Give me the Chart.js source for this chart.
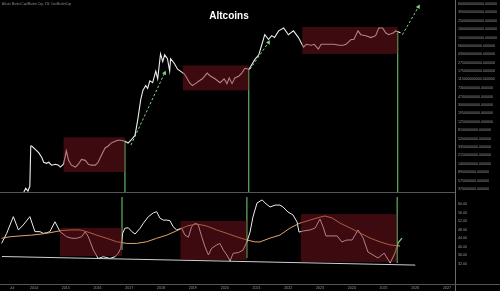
<!DOCTYPE html>
<html>
<head>
<meta charset="utf-8">
<script src="https://cdn.jsdelivr.net/npm/chart.js@4.4.1/dist/chart.umd.min.js"></script>
<style>
  html, body { margin: 0; padding: 0; background: #000; }
  #wrap { position: relative; width: 500px; height: 291px; overflow: hidden; background: #000;
          font-family: "Liberation Sans", Arial, sans-serif; }
  #topPane { position: absolute; left: 0; top: 0; width: 500px; height: 197px; }
  #lowPane { position: absolute; left: 0; top: 197px; width: 500px; height: 94px; }
  #title { position: absolute; left: 0; width: 458px; top: 11px; line-height: 10px; text-align: center;
           color: #fff; font-weight: bold; font-size: 10px; }
  #source { position: absolute; left: 2px; top: 2px; color: #8c8c8c; font-size: 8px; white-space: nowrap;
            transform: scale(0.37); transform-origin: left top; }
</style>
</head>
<body>
<div id="wrap">
  <div id="topPane"><canvas id="topChart"></canvas></div>
  <div id="lowPane"><canvas id="lowChart"></canvas></div>
  <div id="title">Altcoins</div>
  <div id="source">Altcoin Market Cap/Market Cap, 1W, CoinMarketCap</div>
</div>
<script>
// x axis (decimal years)
const xMin = 2012.93, xMax = 2027.25;
const xTickValues = [2013.31, 2014, 2015, 2016, 2017, 2018, 2019, 2020, 2021, 2022, 2023, 2024, 2025, 2026, 2027];
const xTickLabels = ['Jul', '2014', '2015', '2016', '2017', '2018', '2019', '2020', '2021', '2022', '2023', '2024', '2025', '2026', '2027'];

// top pane: altcoin market cap, in billions USD (log scale)
const capTicks = [6000, 3900, 2500, 1600, 1000, 660, 430, 275, 175, 115, 73, 47, 30, 19.5, 12.5, 8.1, 5.2, 3.35, 2.15, 1.4, 0.89, 0.575, 0.37];
const capDates = [2013.56,2013.62,2013.69,2013.75,2013.78,2013.81,2013.94,2014.03,2014.13,2014.19,2014.28,2014.35,2014.44,2014.57,2014.66,2014.72,2014.82,2014.91,2014.98,2015.07,2015.20,2015.29,2015.39,2015.51,2015.61,2015.70,2015.83,2015.92,2016.02,2016.14,2016.24,2016.33,2016.46,2016.55,2016.64,2016.77,2016.87,2016.96,2017.09,2017.18,2017.27,2017.34,2017.43,2017.49,2017.56,2017.65,2017.75,2017.81,2017.90,2017.97,2018.03,2018.12,2018.19,2018.22,2018.34,2018.44,2018.53,2018.66,2018.75,2018.82,2018.91,2019.01,2019.13,2019.23,2019.38,2019.48,2019.63,2019.79,2019.92,2020.01,2020.08,2020.17,2020.26,2020.39,2020.48,2020.58,2020.71,2020.80,2020.89,2021.02,2021.11,2021.21,2021.33,2021.43,2021.52,2021.65,2021.81,2021.96,2022.12,2022.28,2022.44,2022.53,2022.69,2022.78,2022.91,2023.00,2023.22,2023.41,2023.57,2023.70,2023.79,2023.95,2024.04,2024.17,2024.26,2024.42,2024.58,2024.73,2024.83,2024.95,2025.05,2025.14,2025.30,2025.36,2025.52];
const capValues = [0.315,0.386,0.332,0.426,3.52,3.52,2.88,2.48,1.93,1.50,1.42,1.50,1.29,1.355,1.29,1.165,1.355,2.74,1.66,1.29,1.165,1.355,1.74,1.66,1.355,1.29,1.29,1.50,2.13,3.18,3.52,4.10,4.53,4.76,4.76,4.53,4.10,4.76,6.12,14.4,39.3,65.0,83.6,71.9,107.5,97.2,178,119,439,294,418,342,178,342,266,197,178,153,119,97.2,83.6,92.5,107.5,119,161,138,119,97.2,119,92.5,125,92.5,125,138,161,207,197,253,325,418,691,1201,934,1142,1033,1468,1707,1201,1468,1033,625,726,691,726,565,726,726,726,691,691,726,934,934,1468,1201,1142,1033,1142,1707,1707,1328,1201,1328,1468,1328];

// shaded ranges (start, end) and their levels in each pane
const boxStart = [2014.82, 2018.61, 2022.40];
const boxEnd = [2016.77, 2020.70, 2025.43];
const topBoxHigh = [5.54, 240, 1794];
const topBoxLow = [0.906, 65, 439];
const lowBoxHigh = [48.8, 52.1, 55.3];
const lowBoxLow = [35.7, 33.9, 32.9];

// green markers
const greenX = [2016.77, 2020.70, 2025.43];
const greenTopCap = [4.53, 197, 1328];
const greenLowEnd = [38.5, 34.8, 32.5];
const arrowStartX = [2016.96, 2020.74, 2025.58];
const arrowStartY = [3.70, 197, 1201];
const arrowEndX = [2018.03, 2021.33, 2026.09];
const arrowEndY = [161, 803, 5160];
const arrowTilt = [24, 32, 29];

// lower pane: oscillator and its average
const oscTicks = [60, 56, 52, 48, 44, 40, 36, 32];
const oscDates = [2012.98,2013.14,2013.35,2013.51,2013.66,2013.87,2014.03,2014.19,2014.29,2014.40,2014.50,2014.66,2014.82,2015.03,2015.19,2015.34,2015.50,2015.61,2015.71,2015.87,2016.02,2016.18,2016.39,2016.55,2016.65,2016.73,2016.79,2016.86,2016.97,2017.08,2017.18,2017.34,2017.44,2017.60,2017.76,2017.86,2017.97,2018.07,2018.18,2018.28,2018.38,2018.49,2018.65,2018.75,2018.86,2018.96,2019.07,2019.17,2019.28,2019.38,2019.49,2019.59,2019.75,2019.85,2019.96,2020.07,2020.17,2020.27,2020.43,2020.58,2020.70,2020.80,2020.89,2021.02,2021.18,2021.27,2021.43,2021.59,2021.74,2021.84,2021.99,2022.15,2022.28,2022.34,2022.47,2022.69,2022.85,2023.00,2023.10,2023.19,2023.38,2023.54,2023.69,2023.85,2024.01,2024.20,2024.36,2024.51,2024.67,2024.83,2025.02,2025.21,2025.36];
const oscValues = [41.6,46.3,54.1,47.9,50.2,54.1,47.1,47.1,46.3,46.6,47.1,51.7,47.1,44.7,44.0,44.0,44.7,47.1,44.7,38.5,34.6,35.4,34.6,35.4,37.0,39.3,46.3,48.7,48.9,47.1,46.0,48.7,51.0,54.1,55.9,56.4,53.3,52.5,52.5,52.2,49.4,47.9,48.7,45.5,44.5,49.4,51.0,50.2,44.7,40.1,36.2,39.3,40.9,41.6,38.5,36.2,33.5,37.0,37.3,38.5,42.3,46.9,53.9,60.5,61.9,60.5,58.6,59.5,59.5,58.6,56.3,54.9,51.6,46.9,47.4,47.9,48.8,53.0,49.3,45.1,45.1,45.1,42.3,43.2,43.2,47.9,44.1,37.6,36.2,34.8,37.1,32.5,37.1];
const oscTailDates = [2025.36, 2025.46, 2025.58];
const oscTailValues = [37.1, 41.8, 44.1];
const maDates = [2012.98,2013.24,2013.56,2013.93,2014.19,2014.50,2014.82,2015.13,2015.45,2015.66,2015.97,2016.29,2016.60,2016.92,2017.23,2017.55,2017.86,2018.18,2018.49,2018.81,2019.12,2019.44,2019.75,2020.07,2020.38,2020.70,2020.96,2021.11,2021.43,2021.74,2022.06,2022.37,2022.69,2023.00,2023.16,2023.38,2023.63,2023.95,2024.26,2024.58,2024.89,2025.21,2025.52];
const maValues = [44.0,44.7,45.1,45.5,45.9,46.6,47.5,47.9,47.9,47.1,45.5,44.0,42.4,41.6,41.6,42.4,44.0,45.5,47.5,49.7,50.7,49.7,47.9,46.3,44.7,43.2,42.3,42.3,44.1,45.5,48.8,51.1,52.5,53.9,54.4,53.5,51.1,48.8,46.5,44.1,42.3,40.9,40.4];
const trendDates = [2012.99, 2026.0];
const trendValues = [35.5, 31.5];

const GREEN = '#5fb35f';
const ARROW = '#79d679';
const WHITE = '#ededed';
const ORANGE = '#e2a36c';
const AXIS_TEXT = '#9a9a9a';

Chart.defaults.font.family = '"Liberation Sans", Arial, sans-serif';

function pts(xs, ys) {
  return xs.map((v, i) => ({ x: v, y: ys[i] }));
}

function lineSet(data, color, extra) {
  return Object.assign({
    data: data, borderColor: color, borderWidth: 1, pointRadius: 0,
    tension: 0, fill: false
  }, extra || {});
}

// shaded boxes + pane separator lines
const framePlugin = {
  id: 'frame',
  afterDatasetsDraw(chart, args, opts) {
    const { ctx, scales } = chart;
    const x = scales.x, y = scales.y;
    ctx.save();
    ctx.fillStyle = 'rgba(122,22,30,0.5)';
    opts.boxes.forEach(b => {
      const x0 = x.getPixelForValue(b[0]), x1 = x.getPixelForValue(b[1]);
      const y0 = y.getPixelForValue(b[2]), y1 = y.getPixelForValue(b[3]);
      ctx.fillRect(x0, y0, x1 - x0, y1 - y0);
    });
    ctx.restore();
  },
  afterDraw(chart, args, opts) {
    const { ctx, chartArea: a, width, height } = chart;
    ctx.save();
    ctx.lineWidth = 1;
    ctx.strokeStyle = '#6a6a6a';
    ctx.beginPath();
    ctx.moveTo(a.right + 0.5, 0);
    ctx.lineTo(a.right + 0.5, height);
    ctx.stroke();
    ctx.strokeStyle = '#555';
    ctx.beginPath();
    if (opts.bottomSeparator) {
      ctx.moveTo(0, a.bottom - 0.5);
      ctx.lineTo(a.right, a.bottom - 0.5);
    } else {
      ctx.moveTo(0, a.bottom + 0.5);
      ctx.lineTo(width, a.bottom + 0.5);
    }
    ctx.stroke();
    ctx.restore();
  }
};

// ---------- top pane ----------
const topSets = [lineSet(pts(capDates, capValues), WHITE, { borderWidth: 1.1 })];
greenX.forEach((gx, i) => {
  topSets.push(lineSet(pts([gx, gx], [greenTopCap[i], 0.3]), GREEN, { borderWidth: 1.2 }));
});
arrowStartX.forEach((ax, i) => {
  topSets.push(lineSet(pts([ax, arrowEndX[i]], [arrowStartY[i], arrowEndY[i]]), ARROW, {
    borderDash: [2.5, 2],
    pointRadius: [0, 2.6],
    pointStyle: 'triangle',
    pointRotation: [0, arrowTilt[i]],
    pointBackgroundColor: ARROW,
    pointBorderWidth: 0
  }));
});

new Chart(document.getElementById('topChart'), {
  type: 'line',
  data: { datasets: topSets },
  options: {
    responsive: true, maintainAspectRatio: false, animation: false,
    layout: { padding: 0 },
    plugins: {
      legend: { display: false }, tooltip: { enabled: false },
      frame: { boxes: boxStart.map((s, i) => [s, boxEnd[i], topBoxHigh[i], topBoxLow[i]]), bottomSeparator: true }
    },
    scales: {
      x: { type: 'linear', min: xMin, max: xMax, display: false },
      y: {
        type: 'logarithmic', position: 'right', min: 0.3, max: 6000,
        afterFit: s => { s.width = 45; s.paddingTop = 0; s.paddingBottom = 0; },
        afterBuildTicks: s => { s.ticks = capTicks.map(v => ({ value: v })); },
        grid: { display: false, drawTicks: false }, border: { display: false },
        ticks: { color: AXIS_TEXT, font: { size: 3.6 }, padding: 3, autoSkip: false,
                 callback: v => (v * 1e9).toFixed(6) }
      }
    }
  },
  plugins: [framePlugin]
});

// ---------- lower pane ----------
const lowSets = [
  lineSet(pts(trendDates, trendValues), '#cfcfcf'),
  lineSet(pts(maDates, maValues), ORANGE),
  lineSet(pts(oscDates, oscValues), WHITE),
  lineSet(pts(oscTailDates, oscTailValues), ARROW, { borderWidth: 1.2 })
];
greenX.forEach((gx, i) => {
  lowSets.push(lineSet(pts([gx, gx], [63.27, greenLowEnd[i]]), GREEN, { borderWidth: 1.2 }));
});

new Chart(document.getElementById('lowChart'), {
  type: 'line',
  data: { datasets: lowSets },
  options: {
    responsive: true, maintainAspectRatio: false, animation: false,
    layout: { padding: 0 },
    plugins: {
      legend: { display: false }, tooltip: { enabled: false },
      frame: { boxes: boxStart.map((s, i) => [s, boxEnd[i], lowBoxHigh[i], lowBoxLow[i]]), bottomSeparator: false }
    },
    scales: {
      x: {
        type: 'linear', min: xMin, max: xMax,
        afterFit: s => { s.height = 7; s.paddingLeft = 0; s.paddingRight = 0; },
        afterBuildTicks: s => { s.ticks = xTickValues.map(v => ({ value: v })); },
        grid: { display: false, drawTicks: false }, border: { display: false },
        ticks: { color: AXIS_TEXT, font: { size: 3.6 }, padding: 2, autoSkip: false, maxRotation: 0,
                 callback: (v, i) => xTickLabels[i] }
      },
      y: {
        type: 'linear', position: 'right', min: 22.67, max: 63.27,
        afterFit: s => { s.width = 45; s.paddingTop = 0; s.paddingBottom = 0; },
        afterBuildTicks: s => { s.ticks = oscTicks.map(v => ({ value: v })); },
        grid: { display: false, drawTicks: false }, border: { display: false },
        ticks: { color: AXIS_TEXT, font: { size: 3.6 }, padding: 3, autoSkip: false,
                 callback: v => v.toFixed(2) }
      }
    }
  },
  plugins: [framePlugin]
});
</script>
</body>
</html>
